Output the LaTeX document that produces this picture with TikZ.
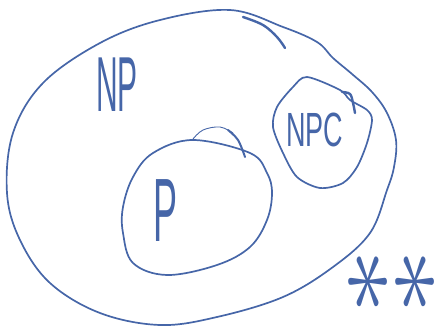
\documentclass[tikz,border=0pt]{standalone}
\usepackage{fontspec}
\setmainfont{Liberation Sans}
\definecolor{ink}{RGB}{70,102,168}
\begin{document}
\begin{tikzpicture}[x=1pt,y=-1pt,
  pen/.style={draw=ink,line width=1.7pt,line cap=round,line join=round},
  stroke/.style={draw=ink,line width=2.4pt,line cap=round},
  lbl/.style={text=ink,inner sep=0pt,font=\fontsize{60}{60}\selectfont}]
\useasboundingbox (0,0) rectangle (442,327);
% outer NP region
\draw[pen] plot[smooth cycle,tension=0.6] coordinates{
 (230,10) (283,27) (317,42) (333,58) (352,74) (372,92) (387,113) (396,140)
 (394,167) (387,190) (370,233) (333,267) (283,297) (217,317) (160,325)
 (100,313) (50,283) (20,240) (7,193) (13,133) (43,83) (100,43) (160,20)};
\draw[stroke] plot[smooth,tension=0.6] coordinates{(243,17) (263,25) (277,37) (285,48)};
% inner P region
\draw[pen] plot[smooth cycle,tension=0.6] coordinates{
 (193,140) (250,153) (267,173) (272,193) (267,220) (250,247) (217,265)
 (167,275) (133,263) (123,233) (123,207) (133,177) (153,153)};
\draw[draw=ink,line width=0.9pt] plot[smooth,tension=0.6] coordinates{(193,139) (203,130) (220,127) (233,133)};
\draw[stroke,line width=2pt] plot[smooth,tension=0.6] coordinates{(228,130) (238,140) (245,157)};
% NPC region
\draw[pen] plot[smooth cycle,tension=0.5] coordinates{
 (307,77) (340,90) (350,100) (367,110) (372,120) (367,143) (357,167)
 (343,183) (320,188) (297,177) (283,153) (273,127) (277,107) (293,87)};
\draw[stroke] plot[smooth,tension=0.6] coordinates{(342,92) (350,94) (353,103) (355,113)};
% labels
\node[lbl,xscale=0.5,yscale=1.3] (np) at (117,85) {NP};
\node[lbl,xscale=0.6,yscale=1.5] (p) at (166,211) {P};
\node[lbl,xscale=0.45,yscale=0.8,anchor=base west] (npc) at (286,146) {NPC};
\node[text=ink,inner sep=0pt,rotate=90] (s1) at (370,282) {\scalebox{13.5}[9]{$\ast$}};
\node[text=ink,inner sep=0pt,rotate=90] (s2) at (417,282) {\scalebox{13.5}[9]{$\ast$}};
\end{tikzpicture}
\end{document}
